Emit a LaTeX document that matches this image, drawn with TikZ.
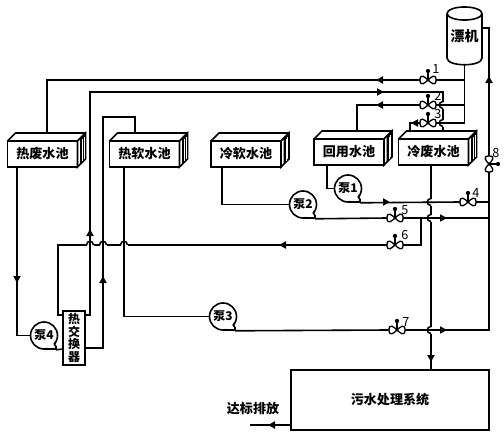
\documentclass[tikz,border=0pt]{standalone}
\usepackage{fontspec}
\setmainfont{Noto Sans CJK SC}
\usetikzlibrary{arrows.meta,positioning,calc,shapes.geometric}
\tikzset{
  pipe/.style={line width=1.2pt},
  pool/.style={draw,pipe,minimum width=52.5pt,minimum height=19.5pt,inner sep=0pt,font=\fontsize{9.8}{11}\selectfont\bfseries},
  pumpbox/.style={draw,pipe,circle,minimum size=20.25pt,inner sep=0pt,font=\fontsize{9}{10}\selectfont\bfseries},
  valvebox/.style={minimum width=12pt,minimum height=7pt,inner sep=0pt},
  numtxt/.style={inner sep=0pt,font=\fontsize{9.5}{10}\selectfont},
  plaintxt/.style={inner sep=0pt,font=\fontsize{9.8}{11}\selectfont\bfseries},
  poolback/.pic={
    \draw[pipe,line join=round] (-35,-13) -- (-27,-21) -- (43,-21) -- (35,-13);
    \draw[pipe,fill=white] (35,13) -- (43,5) -- (43,-21) -- (35,-13) -- cycle;
    \fill (37.5,-15) -- (43,-21) -- (43,5) -- (37.5,10.5) -- cycle;
    \draw[white,line width=.3pt] (39.7,-15) -- (39.7,7) (41.4,-17) -- (41.4,5);
  },
  machshell/.pic={
    \draw[pipe] (0,-22.5) ellipse[x radius=13.1pt,y radius=4.9pt];
    \draw[pipe] (-17.5,-22.5) -- (-17.5,22) .. controls (-17.5,31) and (17.5,31) .. (17.5,22) -- (17.5,-22.5);
  },
  valve/.pic={
    \draw[line width=1pt] (0,0) .. controls (-3,-3) and (-8,-7) .. (-8,0) .. controls (-8,7) and (-3,3) .. (0,0) .. controls (3,-3) and (8,-7) .. (8,0) .. controls (8,7) and (3,3) .. (0,0) -- cycle;
    \draw[pipe] (0,0) -- (0,-9);
    \fill (0,-9) circle[radius=1.6pt];
  },
  flow/.pic={\fill (-3,-3.8) -- (3.8,0) -- (-3,3.8) -- cycle;},
  hop/.pic={
    \fill[white] (-3.5,-1.6) rectangle (3.5,1.6);
    \draw[pipe] (-3.5,0) .. controls (-3,-5) and (3,-5) .. (3.5,0);
  },
  pumptail/.pic={
    \fill[white] (3,8) rectangle (11.5,12.8);
    \draw[pipe] (0,13.5) -- (12,13.5) -- (12,11) -- (10.5,9) -- (11.8,6.5);
  }
}
\begin{document}
\begin{tikzpicture}[x=0.75pt,y=-0.75pt,>=Latex]
\useasboundingbox (0,0) rectangle (504,432);
% pools
\node[pool] (hotw) at (42.5,154) {热废水池};
\pic at (hotw) {poolback};
\node[pool] (hots) at (144.5,154) {热软水池};
\pic at (hots) {poolback};
\node[pool] (cols) at (246,154) {冷软水池};
\pic at (cols) {poolback};
\node[pool] (back) at (349,152) {回用水池};
\pic at (back) {poolback};
\node[pool] (colw) at (433.5,152) {冷废水池};
\pic at (colw) {poolback};
% machine, exchanger, treatment
\node[minimum width=26.25pt,minimum height=43.5pt,inner sep=0pt,font=\fontsize{10.5}{12}\selectfont\bfseries] (mach) at (464.5,36) {漂机};
\pic at (mach) {machshell};
\node[draw,pipe,minimum width=16.5pt,minimum height=40.5pt,inner sep=0pt,align=center,font=\fontsize{9}{9.3}\selectfont\bfseries] (hx) at (74,338) {热\\交\\换\\器};
\node[draw,pipe,minimum width=148.5pt,minimum height=45pt,inner sep=0pt,font=\fontsize{9.8}{11}\selectfont\bfseries] (tp) at (390,400) {污水处理系统};
\node[plaintxt] (dis) at (253,409) {达标排放};
% pumps
\node[pumpbox] (p1) at (348,188.5) {泵1};
\pic at (p1) {pumptail};
\node[pumpbox] (p2) at (303,204.5) {泵2};
\pic at (p2) {pumptail};
\node[pumpbox] (p3) at (223,316.5) {泵3};
\pic at (p3) {pumptail};
\node[pumpbox] (p4) at (44,335.5) {泵4};
\pic at (p4) {pumptail};
% valves
\node[valvebox] (v1) at (428,80) {};
\pic at (v1) {valve};
\node[numtxt] (n1) at (436,69) {1};
\node[valvebox] (v2) at (428,105) {};
\pic at (v2) {valve};
\node[numtxt] (n2) at (438,96) {2};
\node[valvebox] (v3) at (428,123) {};
\pic at (v3) {valve};
\node[numtxt] (n3) at (438,114) {3};
\node[valvebox] (v4) at (468,202) {};
\pic at (v4) {valve};
\node[numtxt] (n4) at (476,193) {4};
\node[valvebox] (v5) at (395,218) {};
\pic at (v5) {valve};
\node[numtxt] (n5) at (405,210) {5};
\node[valvebox] (v6) at (395,245) {};
\pic at (v6) {valve};
\node[numtxt] (n6) at (405,235) {6};
\node[valvebox] (v7) at (397,330) {};
\pic at (v7) {valve};
\node[numtxt] (n7) at (406,322) {7};
\node[valvebox,rotate=-90] (v8) at (489,164) {};
\pic[rotate=-90] at (v8) {valve};
\node[numtxt] (n8) at (496,153) {8};
% ends of the pipes
\coordinate (hw-in) at (47,133);
\coordinate (hw-out) at (17,167);
\coordinate (hs-in) at (135,133);
\coordinate (hs-out) at (124,167);
\coordinate (cs-out) at (222,167);
\coordinate (bk-in) at (357,131);
\coordinate (bk-out) at (327,165);
\coordinate (cw-ina) at (410,131);
\coordinate (cw-inb) at (443,131);
\coordinate (cw-out) at (431,165);
\coordinate (hx-a) at (85,315);
\coordinate (hx-b) at (63,315);
\coordinate (hx-c) at (85,348);
\coordinate (hx-d) at (63,349);
\coordinate (cn-a) at (90,92);
\coordinate (cn-b) at (58,315);
\coordinate (cn-c) at (103,117);
\coordinate (cn-d) at (421,218);
\coordinate (j1) at (464,80);
\coordinate (j2) at (464,105);
\coordinate (r1) at (489,202);
\coordinate (r2) at (489,218);
\coordinate (m-in) at (482,28);
\coordinate (tp-out) at (291,425);
\coordinate (dis-end) at (250,425);
\coordinate (p1-out) at ($(p1.south)+(12,0)$);
\coordinate (p2-out) at ($(p2.south)+(12,0)$);
\coordinate (p3-out) at ($(p3.south)+(12,0)$);
\coordinate (p4-out) at ($(p4.south)+(12,0)$);
% lines that jump over others go first
\draw[pipe] (v6.west) -| (cn-b) -- (hx-b);
\pic at (90,245) {hop};
\pic at (103,245) {hop};
\pic at (124,245) {hop};
\draw[pipe] (cw-out) -- (cw-out |- tp.north);
\pic[rotate=90] at (431,202) {hop};
\pic[rotate=90] at (431,218) {hop};
\pic[rotate=90] at (431,330) {hop};
\draw[pipe] (hx-a) -| (cn-a) -| (cw-inb);
\pic[rotate=90] at (443,105) {hop};
\pic[rotate=90] at (443,123) {hop};
% the rest
\draw[pipe] (mach.south) |- (v3.east);
\draw[pipe] (j1) -- (v1.east);
\draw[pipe] (v1.west) -| (hw-in);
\draw[pipe] (j2) -- (v2.east);
\draw[pipe] (v2.west) -| (bk-in);
\draw[pipe] (v3.west) -| (cw-ina);
\draw[pipe] (hx-c) -| (cn-c) -| (hs-in);
\draw[pipe] (hw-out) |- (p4.west);
\draw[pipe] (p4-out) -- (hx-d);
\draw[pipe] (hs-out) |- (p3.west);
\draw[pipe] (p3-out) -- (v7.west);
\draw[pipe] (cs-out) |- (p2.west);
\draw[pipe] (p2-out) -- (v5.west);
\draw[pipe] (bk-out) |- (p1.west);
\draw[pipe] (p1-out) -- (v4.west);
\draw[pipe] (v4.east) -- (r1);
\draw[pipe] (v5.east) -- (r2);
\draw[pipe] (cn-d) |- (v6.east);
\draw[pipe] (v7.east) -| (v8.east);
\draw[pipe] (v8.west) |- (m-in);
\draw[pipe] (tp-out) -- (dis-end);
% flow marks
\pic[rotate=180] at (380,80) {flow};
\pic at (380,92) {flow};
\pic[rotate=180] at (380,105) {flow};
\pic[rotate=180] at (415,123) {flow};
\pic[rotate=90] at (489,80) {flow};
\pic[rotate=90] at (90,233) {flow};
\pic[rotate=90] at (103,280) {flow};
\pic[rotate=-90] at (17,279) {flow};
\pic at (386,202) {flow};
\pic at (443,218) {flow};
\pic[rotate=180] at (283,245) {flow};
\pic at (443,330) {flow};
\pic[rotate=-90] at (431,358) {flow};
\pic[rotate=180] at (272,425) {flow};
\end{tikzpicture}
\end{document}
